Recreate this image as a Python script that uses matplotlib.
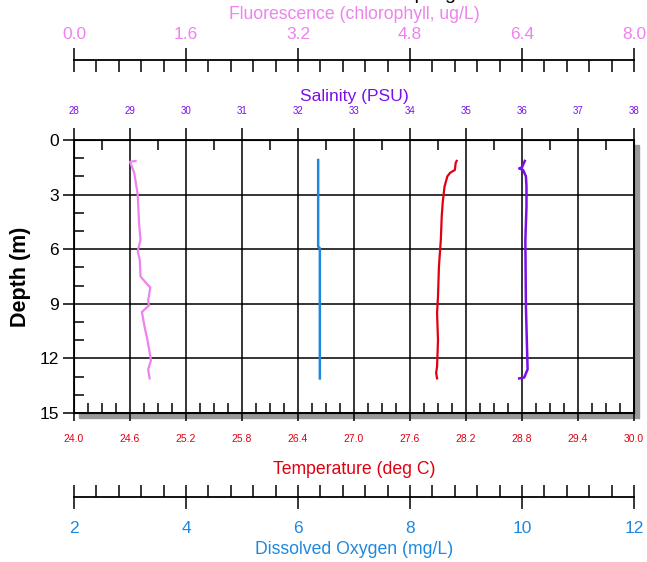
import numpy as np
import matplotlib.pyplot as plt
from matplotlib.patches import Rectangle
from matplotlib.ticker import MultipleLocator, FixedLocator, FormatStrFormatter

plt.rcParams['font.family'] = ['Liberation Sans', 'DejaVu Sans']

# profiles (depth in m)
fluor_depth = [1.15, 1.2, 1.8, 2.75, 3.0, 4.6, 5.5, 6.1, 6.6, 7.5, 7.9, 8.1, 8.8, 9.1, 9.45, 10.3, 11.0, 12.1, 12.6, 13.1]
fluor_val = [0.88, 0.80, 0.86, 0.90, 0.91, 0.93, 0.95, 0.91, 0.94, 0.95, 1.04, 1.09, 1.06, 1.07, 0.97, 1.01, 1.05, 1.10, 1.06, 1.08]

do_depth = [1.1, 5.85, 5.95, 13.1]
do_val = [6.36, 6.36, 6.39, 6.39]

temp_depth = [1.15, 1.25, 1.65, 1.8, 2.0, 2.56, 3.0, 3.46, 4.2, 5.5, 6.96, 8.6, 9.5, 11.0, 12.45, 12.8, 13.1]
temp_val = [28.10, 28.09, 28.08, 28.03, 28.00, 27.97, 27.96, 27.95, 27.94, 27.93, 27.91, 27.90, 27.89, 27.90, 27.89, 27.88, 27.89]

sal_depth = [1.15, 1.5, 1.56, 1.65, 2.0, 2.56, 3.66, 5.5, 9.16, 12.6, 13.05, 13.1]
sal_val = [36.05, 36.0, 35.95, 36.02, 36.07, 36.08, 36.08, 36.06, 36.07, 36.10, 36.04, 35.95]

C_FL = '#EE82EE'
C_SAL = '#7A10E8'
C_TEMP = '#E00010'
C_DO = '#1E88E0'

W, H = 647, 562
fig = plt.figure(figsize=(W / 100, H / 100), dpi=100)
x0, x1, y0, y1 = 74, 634, 140, 413
rect = [x0 / W, 1 - y1 / H, (x1 - x0) / W, (y1 - y0) / H]

# drop shadow behind the frame
fig.add_artist(Rectangle((rect[0] + 5 / W, rect[1] - 5 / H), rect[2], rect[3],
                         transform=fig.transFigure, color='#999999', zorder=-1))

ax = fig.add_axes(rect)
ax.set_xlim(24, 30)
ax.set_ylim(15, 0)
ax.xaxis.set_major_locator(MultipleLocator(0.6))
ax.xaxis.set_minor_locator(MultipleLocator(0.15))
ax.xaxis.set_major_formatter(FormatStrFormatter('%.1f'))
ax.yaxis.set_major_locator(MultipleLocator(3))
ax.yaxis.set_minor_locator(MultipleLocator(1))
ax.grid(True, which='major', color='black', lw=1.1)
ax.tick_params(axis='x', which='major', direction='out', length=6, width=1.1,
               labelsize=7.5, labelcolor=C_TEMP, pad=9)
ax.tick_params(axis='x', which='minor', direction='in', length=7, width=1.1)
ax.tick_params(axis='y', which='major', direction='out', length=8, width=1.1,
               labelsize=12.5, pad=3)
ax.tick_params(axis='y', which='minor', direction='in', length=7, width=1.1)
ax.set_xlabel('Temperature (deg C)', color=C_TEMP, fontsize=12.7, labelpad=12)
ax.set_ylabel('Depth (m)', fontsize=15.5, fontweight='bold', labelpad=6)
for s in ax.spines.values():
    s.set_linewidth(1.3)
ax.plot(temp_val, temp_depth, color=C_TEMP, lw=1.6)

# salinity on the frame top
ax_sal = ax.twiny()
ax_sal.set_xlim(28, 38)
ax_sal.xaxis.set_major_locator(MultipleLocator(1))
ax_sal.xaxis.set_minor_locator(FixedLocator(np.arange(28.5, 38, 1)))
ax_sal.tick_params(axis='x', which='major', direction='out', length=8.6, width=1.1,
                   labelsize=7, labelcolor=C_SAL, pad=9)
ax_sal.tick_params(axis='x', which='minor', direction='in', length=7, width=1.1)
ax_sal.set_xlabel('Salinity (PSU)', color=C_SAL, fontsize=12.6, labelpad=3)
ax_sal.plot(sal_val, sal_depth, color=C_SAL, lw=1.8)

# fluorescence, detached above
ax_fl = ax.twiny()
ax_fl.set_xlim(0, 8)
for k in ['left', 'right', 'bottom']:
    ax_fl.spines[k].set_visible(False)
ax_fl.spines['top'].set_position(('outward', 57.6))
ax_fl.spines['top'].set_linewidth(1.3)
ax_fl.xaxis.set_major_locator(MultipleLocator(1.6))
ax_fl.xaxis.set_minor_locator(MultipleLocator(0.32))
ax_fl.xaxis.set_major_formatter(FormatStrFormatter('%.1f'))
ax_fl.tick_params(axis='x', which='major', direction='inout', length=17.3, width=1.1,
                  labelsize=12.5, labelcolor=C_FL, pad=4)
ax_fl.tick_params(axis='x', which='minor', direction='in', length=8.6, width=1.1)
ax_fl.set_xlabel('Fluorescence (chlorophyll, ug/L)', color=C_FL, fontsize=12.7, labelpad=6)
ax_fl.plot(fluor_val, fluor_depth, color=C_FL, lw=1.6)

# dissolved oxygen, detached below
ax_do = ax.twiny()
ax_do.set_xlim(2, 12)
ax_do.xaxis.set_ticks_position('bottom')
ax_do.xaxis.set_label_position('bottom')
for k in ['left', 'right', 'top']:
    ax_do.spines[k].set_visible(False)
ax_do.spines['bottom'].set_position(('outward', 60.5))
ax_do.spines['bottom'].set_linewidth(1.3)
ax_do.xaxis.set_major_locator(MultipleLocator(2))
ax_do.xaxis.set_minor_locator(MultipleLocator(0.4))
ax_do.tick_params(axis='x', which='major', direction='inout', length=17.3, width=1.1,
                  labelsize=12.5, labelcolor=C_DO, pad=8.5)
ax_do.tick_params(axis='x', which='minor', direction='in', length=8.6, width=1.1)
ax_do.set_xlabel('Dissolved Oxygen (mg/L)', color=C_DO, fontsize=12.7, labelpad=4)
ax_do.plot(do_val, do_depth, color=C_DO, lw=1.8)

# title mostly cropped off the top in the original
fig.text(0.555, 1 + 1 / H, 'Water Column at Sampling Site', ha='center', va='baseline',
         fontsize=14)

fig.savefig('out.png', dpi=100)
